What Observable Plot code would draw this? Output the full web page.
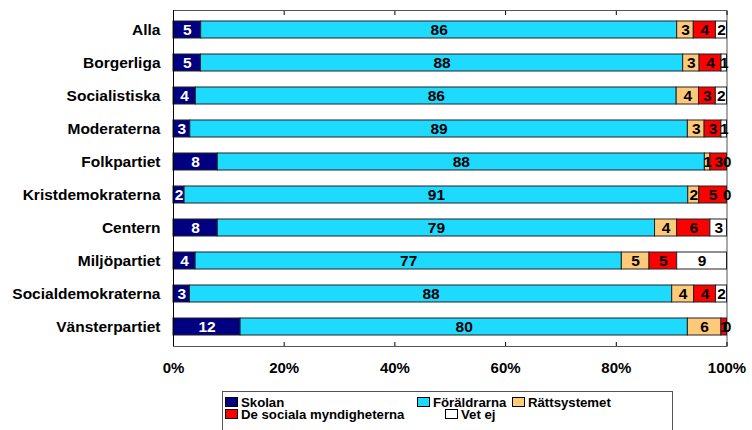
<!DOCTYPE html>
<html>
<head>
<meta charset="utf-8">
<script src="https://cdn.jsdelivr.net/npm/d3@7"></script>
<script src="https://cdn.jsdelivr.net/npm/@observablehq/plot@0.6"></script>
<style>
  html, body { margin: 0; padding: 0; background: #fff; }
  #wrap { position: relative; width: 752px; height: 430px; overflow: hidden; font-family: "Liberation Sans", Arial, sans-serif; font-weight: bold; }
  #legend { position: absolute; left: 222px; top: 391px; width: 451px; height: 50px; border: 1px solid #555; box-sizing: border-box; }
  .item { position: absolute; font-size: 13.2px; line-height: 12px; height: 12px; white-space: nowrap; color: #000; }
  .sw { display: inline-block; width: 11px; height: 8px; border: 1px solid #000; margin-right: 3px; vertical-align: 0px; }
</style>
</head>
<body>
<div id="wrap"></div>
<script>
const parties = ["Alla", "Borgerliga", "Socialistiska", "Moderaterna", "Folkpartiet", "Kristdemokraterna", "Centern", "Miljöpartiet", "Socialdemokraterna", "Vänsterpartiet"];
const categories = ["Skolan", "Föräldrarna", "Rättsystemet", "De sociala myndigheterna", "Vet ej"];
const colors = ["#000080", "#1FDAFF", "#FFC97A", "#FF0000", "#FFFFFF"];
const skolan       = [5, 5, 4, 3, 8, 2, 8, 4, 3, 12];
const foraldrarna  = [86, 88, 86, 89, 88, 91, 79, 77, 88, 80];
const rattsystemet = [3, 3, 4, 3, 1, 2, 4, 5, 4, 6];
const sociala      = [4, 4, 3, 3, 3, 5, 6, 5, 4, 1];
const vetej        = [2, 1, 2, 1, 0, 0, 3, 9, 2, 0];
const xTicks = [0, 0.2, 0.4, 0.6, 0.8, 1];

const series = [skolan, foraldrarna, rattsystemet, sociala, vetej];
const data = [];
parties.forEach((p, i) => {
  categories.forEach((c, j) => data.push({party: p, cat: c, value: series[j][i]}));
});

const font = '"Liberation Sans", Arial, sans-serif';
const chart = Plot.plot({
  width: 752,
  height: 385,
  marginLeft: 173,
  marginRight: 25.5,
  marginTop: 10,
  marginBottom: 39,
  style: {fontFamily: font, fontWeight: "bold", fontSize: "15px", color: "#000", background: "#fff"},
  x: {domain: [0, 1]},
  y: {domain: parties, paddingInner: 0.5, paddingOuter: 0.25},
  color: {domain: categories, range: colors},
  marks: [
    Plot.frame({stroke: "#555", strokeWidth: 1}),
    Plot.barX(data, Plot.stackX({x: "value", y: "party", fill: "cat", z: "cat", offset: "normalize", stroke: "#222", strokeWidth: 1})),
    Plot.text(data, Plot.stackX({
      x: "value", y: "party", z: "cat", offset: "normalize", text: "value",
      fill: d => d.cat === "Skolan" ? "#fff" : "#000",
      fontSize: 15.5, fontWeight: "bold", fontFamily: font
    })),
    Plot.axisY({tickSize: 0, tickPadding: 13, fontSize: 15.5, fontWeight: "bold", label: null}),
    Plot.axisX({anchor: "bottom", ticks: xTicks, tickSize: -4, tickPadding: 20, tickFormat: d => Math.round(d * 100) + "%", fontSize: 15, label: null}),
    Plot.axisX({anchor: "top", ticks: xTicks, tickSize: -4, tickFormat: () => "", label: null}),
    Plot.ruleX([0], {stroke: "#000"})
  ]
});

const wrap = document.getElementById("wrap");
wrap.appendChild(chart);

// Legend
const legend = document.createElement("div");
legend.id = "legend";
wrap.appendChild(legend);
const legendPos = [[2, 5], [194, 5], [289, 5], [2, 17], [222, 17]];
categories.forEach((c, i) => {
  const it = document.createElement("div");
  it.className = "item";
  it.style.left = legendPos[i][0] + "px";
  it.style.top = legendPos[i][1] + "px";
  const sw = document.createElement("span");
  sw.className = "sw";
  sw.style.background = colors[i];
  it.appendChild(sw);
  it.appendChild(document.createTextNode(c));
  legend.appendChild(it);
});
</script>
</body>
</html>
